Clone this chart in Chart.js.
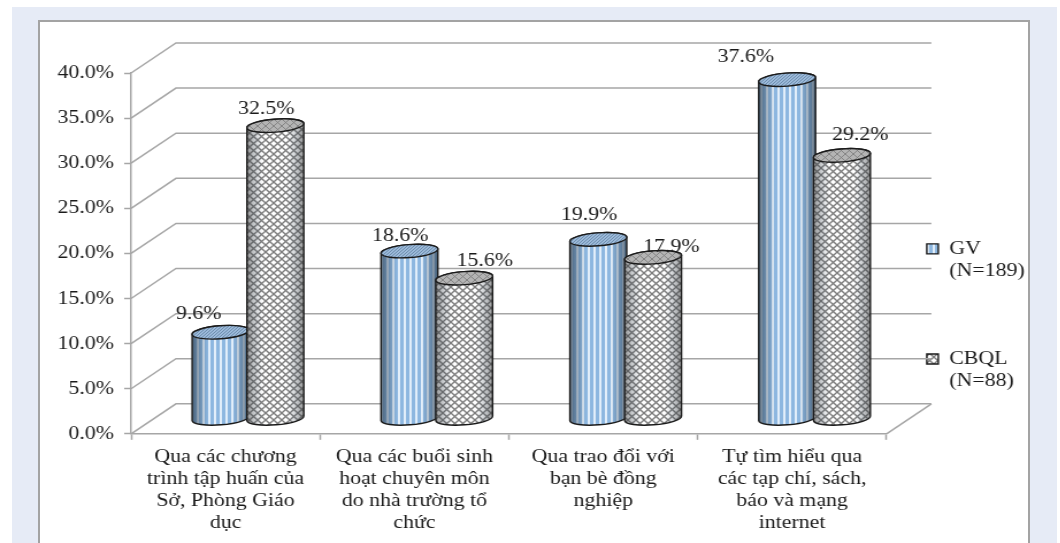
<!DOCTYPE html>
<html lang="vi">
<head>
<meta charset="utf-8">
<title>Biểu đồ GV và CBQL</title>
<script src="https://cdn.jsdelivr.net/npm/chart.js@4"></script>
<style>
	html, body { margin: 0; background: #fff; overflow: hidden; }
	#page { position: absolute; left: 12px; top: 7px; width: 1045px; height: 536px; background: #e6ebf6; }
	#panel { position: absolute; left: 38px; top: 20px; width: 992px; height: 530px; background: #fff; border: 2px solid #a3a3a3; box-sizing: border-box; }
	/* the whole chart is drawn wide: 1.15 times its natural width */
	#wide { position: absolute; left: 0; top: 0; width: 932px; height: 543px; transform: scaleX(1.15); transform-origin: 0 0; }
</style>
</head>
<body>
<div id="page"></div>
<div id="panel"></div>
<div id="wide"><canvas id="chart"></canvas></div>
<script>
const categories = [
	['Qua các chương', 'trình tập huấn của', 'Sở, Phòng Giáo', 'dục'],
	['Qua các buổi sinh', 'hoạt chuyên môn', 'do nhà trường tổ', 'chức'],
	['Qua trao đổi với', 'bạn bè đồng', 'nghiệp'],
	['Tự tìm hiểu qua', 'các tạp chí, sách,', 'báo và mạng', 'internet']
];
const gvLabel = ['GV', '(N=189)'];
const cbqlLabel = ['CBQL', '(N=88)'];
const gvValues = [9.6, 18.6, 19.9, 37.6];
const cbqlValues = [32.5, 15.6, 17.9, 29.2];

const FONT = { family: '"Liberation Serif", "Times New Roman", serif', size: 19, lineHeight: 1.16 };
const GRID = '#a6a6a6';
const INK = '#1a1a1a';

// depth of the floor, between the front axis and the back wall
const DEPTH_X = 39;
const DEPTH_Y = -30;

// where each value label sits relative to the top of its bar: [x, y], one row per dataset
const labelNudge = [
	[[-19, -18], [-8, -15], [-8, -24], [-36, -23]],
	[[-8, -17], [18, -17], [16, -10], [16, -20]]
];

function makePattern(size, paint) {
	const c = document.createElement('canvas');
	c.width = size;
	c.height = size;
	paint(c.getContext('2d'), size);
	return c.getContext('2d').createPattern(c, 'repeat');
}

// vertical blue stripes
const stripePattern = makePattern(5, (p, s) => {
	p.fillStyle = '#8db7e0';
	p.fillRect(0, 0, s, s);
	p.fillStyle = '#e2eefa';
	p.fillRect(1, 0, 2, s);
});

// diagonal grey lattice
function lattice(back, line, width) {
	return makePattern(7, (p, s) => {
		p.fillStyle = back;
		p.fillRect(0, 0, s, s);
		p.strokeStyle = line;
		p.lineWidth = width;
		p.beginPath();
		p.moveTo(-1, -1); p.lineTo(s + 1, s + 1);
		p.moveTo(-1, s + 1); p.lineTo(s + 1, -1);
		p.stroke();
	});
}
const latticePattern = lattice('#ffffff', '#7d7d7d', 1.4);

// hatch used on the cylinder lids
const gvLid = makePattern(3, (p, s) => {
	p.fillStyle = '#9dbbdb';
	p.fillRect(0, 0, s, s);
	p.strokeStyle = '#5f7f9f';
	p.lineWidth = 0.8;
	p.beginPath();
	p.moveTo(0, s); p.lineTo(s, 0);
	p.stroke();
});
const cbqlLid = lattice('#b4b4b4', '#777777', 0.8);

function drawCylinder(ctx, bar, lid, edge) {
	const rx = bar.width / 2 + 1;
	const ry = 6.5;
	const tilt = -0.09;
	const cx = bar.x + DEPTH_X / 2;
	const top = bar.y + DEPTH_Y / 2;
	const bottom = bar.base + DEPTH_Y / 2;

	ctx.beginPath();
	ctx.ellipse(cx, bottom, rx, ry, tilt, 0, Math.PI);
	ctx.ellipse(cx, top, rx, ry, tilt, Math.PI, Math.PI * 2);
	ctx.closePath();
	ctx.fillStyle = bar.options.backgroundColor;
	ctx.fill();

	// round shading over the pattern, darker on both edges
	const shade = ctx.createLinearGradient(cx - rx, 0, cx + rx, 0);
	shade.addColorStop(0, edge);
	shade.addColorStop(0.28, 'rgba(60,80,100,0)');
	shade.addColorStop(0.72, 'rgba(60,80,100,0)');
	shade.addColorStop(1, edge);
	ctx.fillStyle = shade;
	ctx.fill();
	ctx.strokeStyle = INK;
	ctx.lineWidth = 1.4;
	ctx.stroke();

	ctx.beginPath();
	ctx.ellipse(cx, top, rx, ry, tilt, 0, Math.PI * 2);
	ctx.fillStyle = lid;
	ctx.fill();
	ctx.stroke();
}

const cylinders = {
	id: 'cylinders',
	// legend sits lower than the default place and next to the back wall
	afterLayout(chart) {
		const legend = chart.legend;
		legend.left = chart.chartArea.right - 31;
		legend.top += 10;
		legend.bottom += 10;
	},
	// replaces the flat bars
	beforeDatasetsDraw(chart) {
		const { ctx, scales: { x, y } } = chart;
		ctx.save();

		// side and back wall lines for every y tick
		ctx.strokeStyle = GRID;
		ctx.lineWidth = 1.5;
		y.ticks.forEach(t => {
			const py = y.getPixelForValue(t.value);
			ctx.beginPath();
			ctx.moveTo(x.left, py);
			ctx.lineTo(x.left + DEPTH_X, py + DEPTH_Y);
			ctx.lineTo(x.right + DEPTH_X, py + DEPTH_Y);
			ctx.stroke();
		});
		// right edge of the floor
		const floor = y.getPixelForValue(0);
		ctx.beginPath();
		ctx.moveTo(x.right, floor);
		ctx.lineTo(x.right + DEPTH_X, floor + DEPTH_Y);
		ctx.stroke();

		// each category left to right, GV first so CBQL overlaps it
		const gvBars = chart.getDatasetMeta(0).data;
		const cbqlBars = chart.getDatasetMeta(1).data;
		gvBars.forEach((bar, i) => {
			drawCylinder(ctx, bar, gvLid, 'rgba(50,70,90,0.75)');
			drawCylinder(ctx, cbqlBars[i], cbqlLid, 'rgba(60,60,60,0.55)');
		});

		// value labels
		ctx.font = FONT.size + 'px ' + FONT.family;
		ctx.fillStyle = INK;
		ctx.textAlign = 'center';
		ctx.textBaseline = 'middle';
		chart.data.datasets.forEach((ds, d) => {
			chart.getDatasetMeta(d).data.forEach((bar, i) => {
				const n = labelNudge[d][i];
				ctx.fillText(ds.data[i].toFixed(1) + '%', bar.x + DEPTH_X / 2 + n[0], bar.y + DEPTH_Y / 2 + n[1]);
			});
		});
		ctx.restore();
		return false;
	}
};

new Chart(document.getElementById('chart'), {
	type: 'bar',
	data: {
		labels: categories,
		datasets: [
			{ label: gvLabel, data: gvValues, backgroundColor: stripePattern, borderColor: INK, borderWidth: 1.4, categoryPercentage: 0.58, barPercentage: 1 },
			{ label: cbqlLabel, data: cbqlValues, backgroundColor: latticePattern, borderColor: INK, borderWidth: 1.4, categoryPercentage: 0.58, barPercentage: 1 }
		]
	},
	options: {
		responsive: true,
		maintainAspectRatio: false,
		animation: false,
		layout: { padding: { left: 0, top: 73, right: 0, bottom: 3 } },
		plugins: {
			tooltip: { enabled: false },
			legend: {
				position: 'right',
				labels: {
					boxWidth: 10,
					boxHeight: 10,
					padding: 66,
					color: INK,
					font: FONT
				}
			}
		},
		scales: {
			x: {
				grid: { drawOnChartArea: false, tickLength: 6, tickColor: GRID, tickWidth: 1.5 },
				border: { color: GRID, width: 1.5 },
				ticks: { color: INK, font: FONT, padding: 6, autoSkip: false, maxRotation: 0 }
			},
			y: {
				min: 0,
				max: 40,
				grid: { drawOnChartArea: false, tickLength: 6, tickColor: GRID, tickWidth: 1.5 },
				border: { color: GRID, width: 1.5 },
				ticks: {
					stepSize: 5,
					color: INK,
					font: FONT,
					padding: 9,
					callback: v => v.toFixed(1) + '%'
				},
				afterFit: scale => { scale.width = 114; }
			}
		}
	},
	plugins: [cylinders]
});
</script>
</body>
</html>
